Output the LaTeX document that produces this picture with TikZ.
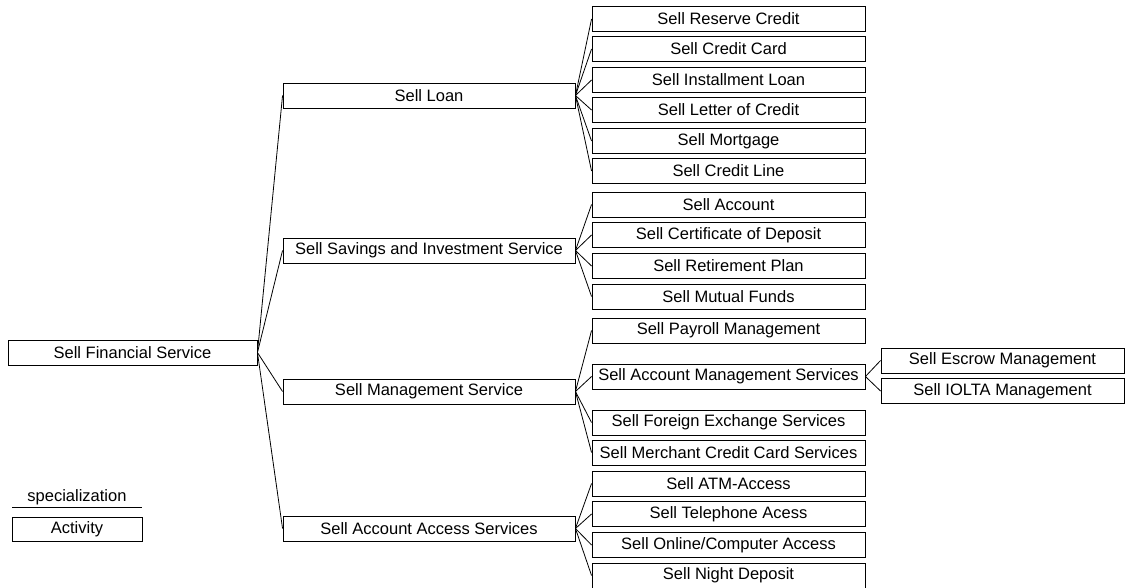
\documentclass[tikz,border=0pt]{standalone}
\usepackage{fontspec}
\setmainfont{Liberation Sans}
\begin{document}
\begin{tikzpicture}[x=1pt,y=-1pt,
  every node/.style={font=\fontsize{16.5}{19}\selectfont},
  box/.style={draw,line width=0.9pt,minimum height=25pt,inner sep=0pt,anchor=center},
  lone/.style={box,minimum width=292pt},
  ltwo/.style={box,minimum width=273pt},
  lthree/.style={box,minimum width=243pt},
  conn/.style={line width=0.8pt}]
\useasboundingbox (0,0) rectangle (1125,587);
% root
\node[box,minimum width=249pt] (root) at (132.5,352.5) {Sell Financial Service};
% level 1
\node[lone] (loan) at (429,95.5) {Sell Loan};
\node[lone] (sav) at (429,250.5) {Sell Savings and Investment Service};
\node[lone] (mgmt) at (429,391.5) {Sell Management Service};
\node[lone] (acc) at (429,528.5) {Sell Account Access Services};
% level 2 - loan
\node[ltwo] (res) at (728.5,19) {Sell Reserve Credit};
\node[ltwo] (card) at (728.5,49) {Sell Credit Card};
\node[ltwo] (inst) at (728.5,80) {Sell Installment Loan};
\node[ltwo] (letter) at (728.5,110) {Sell Letter of Credit};
\node[ltwo] (mort) at (728.5,141) {Sell Mortgage};
\node[ltwo] (line) at (728.5,171) {Sell Credit Line};
% level 2 - savings
\node[ltwo] (account) at (728.5,204.5) {Sell Account};
\node[ltwo] (cert) at (728.5,235) {Sell Certificate of Deposit};
\node[ltwo] (ret) at (728.5,266) {Sell Retirement Plan};
\node[ltwo] (mutual) at (728.5,296.5) {Sell Mutual Funds};
% level 2 - management
\node[ltwo] (payroll) at (728.5,330.5) {Sell Payroll Management};
\node[ltwo] (acctm) at (728.5,376.5) {Sell Account Management Services};
\node[ltwo] (forex) at (728.5,422.5) {Sell Foreign Exchange Services};
\node[ltwo] (merch) at (728.5,452.5) {Sell Merchant Credit Card Services};
% level 2 - access
\node[ltwo] (atm) at (728.5,483.5) {Sell ATM-Access};
\node[ltwo] (tel) at (728.5,514) {Sell Telephone Acess};
\node[ltwo] (online) at (728.5,545) {Sell Online/Computer Access};
\node[ltwo] (night) at (728.5,575.5) {Sell Night Deposit};
% level 3
\node[lthree] (escrow) at (1002.5,360.5) {Sell Escrow Management};
\node[lthree] (iolta) at (1002.5,391) {Sell IOLTA Management};
% connectors
\foreach \c in {loan,sav,mgmt,acc} \draw[conn] (root.east) -- (\c.west);
\foreach \c in {res,card,inst,letter,mort,line} \draw[conn] (loan.east) -- (\c.west);
\foreach \c in {account,cert,ret,mutual} \draw[conn] (sav.east) -- (\c.west);
\foreach \c in {payroll,acctm,forex,merch} \draw[conn] (mgmt.east) -- (\c.west);
\foreach \c in {atm,tel,online,night} \draw[conn] (acc.east) -- (\c.west);
\foreach \c in {escrow,iolta} \draw[conn] (acctm.east) -- (\c.west);
% legend
\node[inner sep=0pt] (spec) at (77,497) {specialization};
\coordinate (sl) at (12,507.5);
\coordinate (sr) at (142,507.5);
\draw[line width=0.9pt] (sl) -- (sr);
\node[box,minimum width=130pt,minimum height=24pt] (activity) at (77,529.5) {Activity};
\end{tikzpicture}
\end{document}
